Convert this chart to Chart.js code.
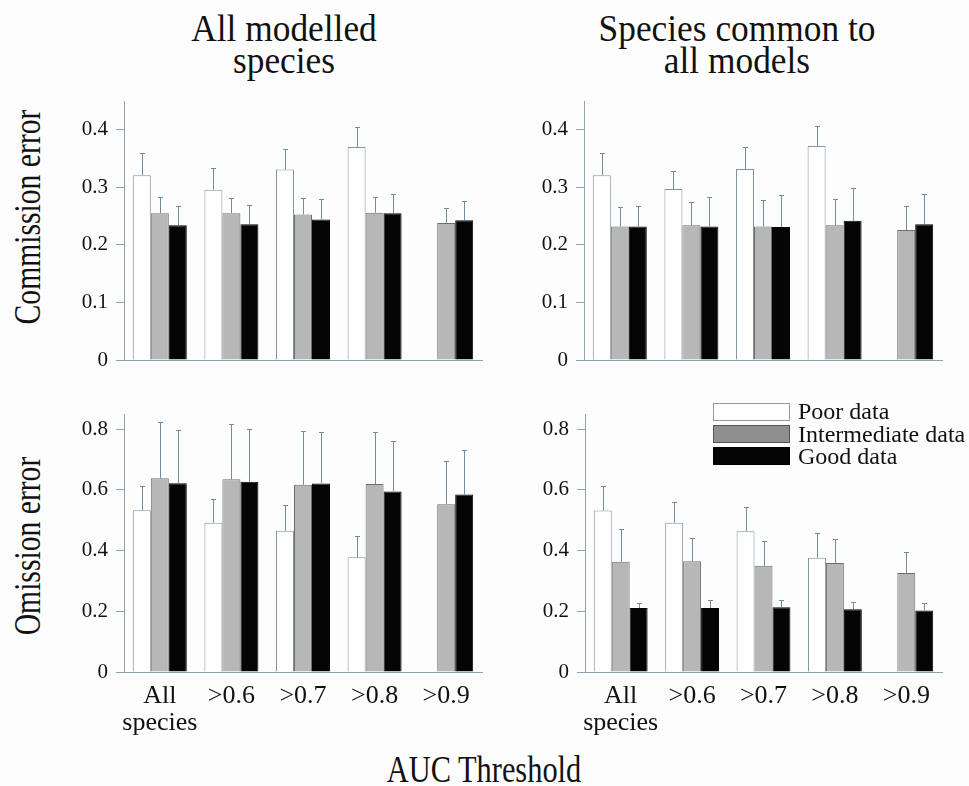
<!DOCTYPE html>
<html><head><meta charset="utf-8">
<script src="https://cdn.jsdelivr.net/npm/chart.js@4.4.0/dist/chart.umd.min.js"></script>
<style>
html,body{margin:0;padding:0;background:#fdfdfd;}
#wrap{position:relative;width:969px;height:786px;overflow:hidden;font-family:'Liberation Serif','Times New Roman',serif;color:#111;}
canvas{position:absolute;}
.t{position:absolute;white-space:nowrap;text-align:center;font-size:38px;line-height:32px;}
.yt{position:absolute;white-space:nowrap;font-size:38px;line-height:38px;}
.lgb{position:absolute;left:713px;width:77px;height:18px;box-sizing:border-box;}
.lgt{position:absolute;left:798px;font-size:24px;line-height:22px;white-space:nowrap;}
</style></head><body>
<div id="wrap">
<div class="t" style="left:284px;top:12px;transform:translateX(-50%) scaleX(0.93);">All modelled<br>species</div>
<div class="t" style="left:737px;top:12px;transform:translateX(-50%) scaleX(0.93);">Species common to<br>all models</div>
<div class="yt" style="left:27px;top:217px;transform:translate(-50%,-50%) rotate(-90deg) scaleX(0.78);">Commission error</div>
<div class="yt" style="left:27px;top:546px;transform:translate(-50%,-50%) rotate(-90deg) scaleX(0.78);">Omission error</div>
<div class="t" style="left:484px;top:753px;transform:translateX(-50%) scaleX(0.8);">AUC Threshold</div>

<canvas id="c1" width="440" height="280" style="left:60px;top:90px"></canvas>
<canvas id="c2" width="440" height="280" style="left:520px;top:90px"></canvas>
<canvas id="c3" width="440" height="340" style="left:60px;top:400px"></canvas>
<canvas id="c4" width="440" height="340" style="left:520px;top:400px"></canvas>

<div class="lgb" style="top:403px;border:1px solid #8d9ca6;background:#fff;"></div>
<div class="lgb" style="top:425px;border:1px solid #555;background:#8f8f8f;"></div>
<div class="lgb" style="top:447px;border:1px solid #000;background:#050505;"></div>
<div class="lgt" style="top:400px;">Poor data</div>
<div class="lgt" style="top:423px;">Intermediate data</div>
<div class="lgt" style="top:445px;">Good data</div>
</div>
<script>
// ---- data ----
const categories = [['All','species'], '>0.6', '>0.7', '>0.8', '>0.9'];
const seriesNames = ['Poor data', 'Intermediate data', 'Good data'];
const commissionTicks = [0, 0.1, 0.2, 0.3, 0.4];
const omissionTicks = [0, 0.2, 0.4, 0.6, 0.8];

// Commission error, all modelled species
const comAllPoor     = [0.321, 0.296, 0.331, 0.370, null];
const comAllPoorErr  = [0.360, 0.333, 0.367, 0.404, null];
const comAllInter    = [0.255, 0.255, 0.253, 0.256, 0.238];
const comAllInterErr = [0.283, 0.282, 0.282, 0.283, 0.264];
const comAllGood     = [0.234, 0.236, 0.244, 0.255, 0.243];
const comAllGoodErr  = [0.267, 0.269, 0.279, 0.289, 0.277];

// Commission error, species common to all models
const comComPoor     = [0.321, 0.297, 0.332, 0.372, null];
const comComPoorErr  = [0.360, 0.329, 0.370, 0.407, null];
const comComInter    = [0.232, 0.234, 0.232, 0.234, 0.226];
const comComInterErr = [0.266, 0.275, 0.278, 0.280, 0.267];
const comComGood     = [0.232, 0.232, 0.231, 0.242, 0.236];
const comComGoodErr  = [0.267, 0.284, 0.287, 0.299, 0.288];

// Omission error, all modelled species
const omAllPoor      = [0.533, 0.492, 0.465, 0.378, null];
const omAllPoorErr   = [0.613, 0.570, 0.549, 0.448, null];
const omAllInter     = [0.638, 0.635, 0.617, 0.619, 0.553];
const omAllInterErr  = [0.822, 0.818, 0.795, 0.792, 0.694];
const omAllGood      = [0.622, 0.627, 0.621, 0.595, 0.585];
const omAllGoodErr   = [0.797, 0.802, 0.792, 0.762, 0.733];

// Omission error, species common to all models
const omComPoor      = [0.532, 0.492, 0.464, 0.376, null];
const omComPoorErr   = [0.614, 0.559, 0.542, 0.459, null];
const omComInter     = [0.363, 0.365, 0.350, 0.359, 0.326];
const omComInterErr  = [0.470, 0.441, 0.432, 0.438, 0.395];
const omComGood      = [0.211, 0.211, 0.213, 0.207, 0.203];
const omComGoodErr   = [0.227, 0.238, 0.236, 0.232, 0.227];

// ---- drawing ----
Chart.defaults.font.family = "'Liberation Serif','Times New Roman',serif";
const axisColor = '#8ea3af';
const errColor = '#6f8d9e';

const errPlugin = {
  id: 'errbars',
  afterDatasetsDraw(chart, args, opts) {
    const ctx = chart.ctx, ys = chart.scales.y;
    ctx.save();
    ctx.strokeStyle = errColor;
    ctx.lineWidth = 1;
    (opts.data || []).forEach((arr, di) => {
      const meta = chart.getDatasetMeta(di);
      arr.forEach((v, j) => {
        if (v == null) return;
        const bar = meta.data[j];
        if (!bar) return;
        const x = Math.round(bar.x) + 0.5;
        const yt = Math.round(ys.getPixelForValue(v)) + 0.5;
        ctx.beginPath();
        ctx.moveTo(x, bar.y);
        ctx.lineTo(x, yt);
        ctx.moveTo(x - 2.5, yt);
        ctx.lineTo(x + 2.5, yt);
        ctx.stroke();
      });
    });
    ctx.restore();
  }
};

function panel(id, c) {
  return new Chart(document.getElementById(id), {
    type: 'bar',
    data: {
      labels: categories,
      datasets: [
        {label: seriesNames[0], data: c.poor, backgroundColor: '#fefefe', borderColor: '#7f959f', borderWidth: 1},
        {label: seriesNames[1], data: c.inter, backgroundColor: '#b7b7b7', borderColor: '#6e6e6e', borderWidth: 1},
        {label: seriesNames[2], data: c.good, backgroundColor: '#050505', borderColor: '#050505', borderWidth: 1}
      ]
    },
    options: {
      responsive: false, animation: false, devicePixelRatio: 1,
      layout: {padding: {top: c.padTop, right: 18, left: 0, bottom: 0}},
      datasets: {bar: {categoryPercentage: 0.754, barPercentage: 1}},
      plugins: {legend: {display: false}, tooltip: {enabled: false}, errbars: {data: c.errs}},
      scales: {
        x: {
          grid: {display: false, drawTicks: false},
          border: {display: true, color: axisColor, width: 1},
          ticks: {display: c.showX, color: '#111', font: {size: 26, lineHeight: 1.02}, padding: 11, maxRotation: 0, autoSkip: false},
          afterFit: s => { s.height = c.xH; s.paddingLeft = 0; s.paddingRight = 0; }
        },
        y: {
          min: 0, max: c.max,
          grid: {display: true, drawOnChartArea: false, drawTicks: true, tickLength: 8, color: axisColor},
          border: {display: true, color: axisColor, width: 1},
          ticks: {color: '#111', font: {size: 21}, padding: 8, callback: v => String(v)},
          afterBuildTicks: s => { s.ticks = c.ticks.map(v => ({value: v})); },
          afterFit: s => { s.width = c.yW; s.paddingTop = 0; s.paddingBottom = 0; }
        }
      }
    },
    plugins: [errPlugin]
  });
}

panel('c1', {poor: comAllPoor, inter: comAllInter, good: comAllGood,
  errs: [comAllPoorErr, comAllInterErr, comAllGoodErr],
  max: 0.45, ticks: commissionTicks, padTop: 11, xH: 10, yW: 64, showX: false});
panel('c2', {poor: comComPoor, inter: comComInter, good: comComGood,
  errs: [comComPoorErr, comComInterErr, comComGoodErr],
  max: 0.45, ticks: commissionTicks, padTop: 11, xH: 10, yW: 64, showX: false});
panel('c3', {poor: omAllPoor, inter: omAllInter, good: omAllGood,
  errs: [omAllPoorErr, omAllInterErr, omAllGoodErr],
  max: 0.85, ticks: omissionTicks, padTop: 14, xH: 68, yW: 64, showX: true});
panel('c4', {poor: omComPoor, inter: omComInter, good: omComGood,
  errs: [omComPoorErr, omComInterErr, omComGoodErr],
  max: 0.85, ticks: omissionTicks, padTop: 14, xH: 68, yW: 65, showX: true});
</script>
</body></html>
